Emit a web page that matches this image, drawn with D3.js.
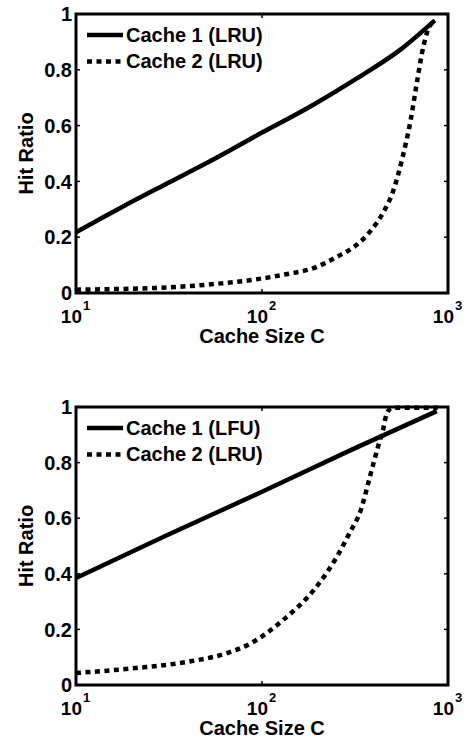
<!DOCTYPE html>
<html>
<head>
<meta charset="utf-8">
<script src="https://cdn.jsdelivr.net/npm/d3@7.9.0/dist/d3.min.js"></script>
<style>
  body { margin: 0; background: #fff; }
  text { font-family: "Liberation Sans", Arial, Helvetica, sans-serif; font-weight: bold; fill: #000; }
</style>
</head>
<body>
<svg id="chart" width="465" height="739"></svg>
<script>
// tick values
const xTicks = [10, 100, 1000];
const yTicks = [0, 0.2, 0.4, 0.6, 0.8, 1];

// top panel: both caches LRU
const topCache1X = [10, 17.3, 32, 56, 100, 178, 316, 562, 850];
const topCache1Y = [0.218, 0.305, 0.398, 0.482, 0.575, 0.665, 0.765, 0.875, 0.977];
const topCache2X = [10, 31, 57, 89, 129, 196, 252, 322, 380, 447, 505, 570, 630, 680, 725, 770, 850];
const topCache2Y = [0.012, 0.02, 0.033, 0.047, 0.065, 0.093, 0.129, 0.172, 0.219, 0.287, 0.362, 0.487, 0.62, 0.753, 0.86, 0.932, 0.978];

// bottom panel: cache 1 LFU, cache 2 LRU
const botCache1X = [10, 30, 100, 300, 870];
const botCache1Y = [0.385, 0.535, 0.695, 0.845, 0.985];
const botCache2X = [10, 21, 39.5, 65, 86, 129, 196, 252, 296, 340, 380, 420, 447, 468, 500, 800, 880];
const botCache2Y = [0.043, 0.061, 0.083, 0.115, 0.148, 0.232, 0.353, 0.46, 0.547, 0.63, 0.748, 0.856, 0.917, 0.975, 0.997, 0.997, 0.997];

const topLegend = ["Cache 1 (LRU)", "Cache 2 (LRU)"];
const botLegend = ["Cache 1 (LFU)", "Cache 2 (LRU)"];

const svg = d3.select("#chart");
const left = 76, right = 448;

const panels = [
  { top: 14, bottom: 293, series: [[topCache1X, topCache1Y], [topCache2X, topCache2Y]], legend: topLegend },
  { top: 407, bottom: 685, series: [[botCache1X, botCache1Y], [botCache2X, botCache2Y]], legend: botLegend },
];

const dashes = [null, "5,4.5"];

panels.forEach((p) => {
  const x = d3.scaleLog().domain([10, 1000]).range([left, right]);
  const y = d3.scaleLinear().domain([0, 1]).range([p.bottom, p.top]);
  const g = svg.append("g");

  // inner ticks on all four sides
  g.selectAll(".xt").data(xTicks).join("line")
    .attr("x1", (d) => x(d)).attr("x2", (d) => x(d))
    .attr("y1", p.bottom).attr("y2", p.bottom - 4)
    .attr("stroke", "#000").attr("stroke-width", 1.5);
  g.selectAll(".xt2").data(xTicks).join("line")
    .attr("x1", (d) => x(d)).attr("x2", (d) => x(d))
    .attr("y1", p.top).attr("y2", p.top + 4)
    .attr("stroke", "#000").attr("stroke-width", 1.5);
  g.selectAll(".yt").data(yTicks).join("line")
    .attr("x1", left).attr("x2", left + 4)
    .attr("y1", (d) => y(d)).attr("y2", (d) => y(d))
    .attr("stroke", "#000").attr("stroke-width", 1.5);
  g.selectAll(".yt2").data(yTicks).join("line")
    .attr("x1", right).attr("x2", right - 4)
    .attr("y1", (d) => y(d)).attr("y2", (d) => y(d))
    .attr("stroke", "#000").attr("stroke-width", 1.5);

  // y tick labels
  g.selectAll(".yl").data(yTicks).join("text")
    .attr("x", left - 4).attr("y", (d) => y(d))
    .attr("dy", "0.36em").attr("text-anchor", "end")
    .attr("font-size", 20)
    .text((d) => d3.format("~g")(d));

  // x tick labels 10^n
  xTicks.forEach((t) => {
    const e = Math.round(Math.log10(t));
    g.append("text").attr("x", x(t) + 6).attr("y", p.bottom + 30)
      .attr("text-anchor", "end").attr("font-size", 19).text("10");
    g.append("text").attr("x", x(t) + 7).attr("y", p.bottom + 17)
      .attr("font-size", 13).text(e);
  });

  // axis titles
  g.append("text").attr("x", (left + right) / 2).attr("y", p.bottom + 50)
    .attr("text-anchor", "middle").attr("font-size", 20).text("Cache Size C");
  g.append("text")
    .attr("transform", `translate(33,${(p.top + p.bottom) / 2}) rotate(-90)`)
    .attr("text-anchor", "middle").attr("font-size", 20).text("Hit Ratio");

  // data lines
  const line = d3.line().x((d) => x(d[0])).y((d) => y(d[1])).curve(d3.curveMonotoneX);
  p.series.forEach(([xs, ys], i) => {
    g.append("path")
      .attr("d", line(d3.zip(xs, ys)))
      .attr("fill", "none").attr("stroke", "#000")
      .attr("stroke-width", 4.5)
      .attr("stroke-dasharray", dashes[i]);
  });

  // frame
  g.append("rect")
    .attr("x", left).attr("y", p.top)
    .attr("width", right - left).attr("height", p.bottom - p.top)
    .attr("fill", "none").attr("stroke", "#000").attr("stroke-width", 3);

  // legend
  p.legend.forEach((label, i) => {
    const ly = p.top + 21 + i * 26.5;
    g.append("line").attr("x1", 87).attr("x2", 123).attr("y1", ly).attr("y2", ly)
      .attr("stroke", "#000").attr("stroke-width", 4.5)
      .attr("stroke-dasharray", dashes[i]);
    g.append("text").attr("x", 126).attr("y", ly + 6.5)
      .attr("font-size", 20).text(label);
  });
});
</script>
</body>
</html>
